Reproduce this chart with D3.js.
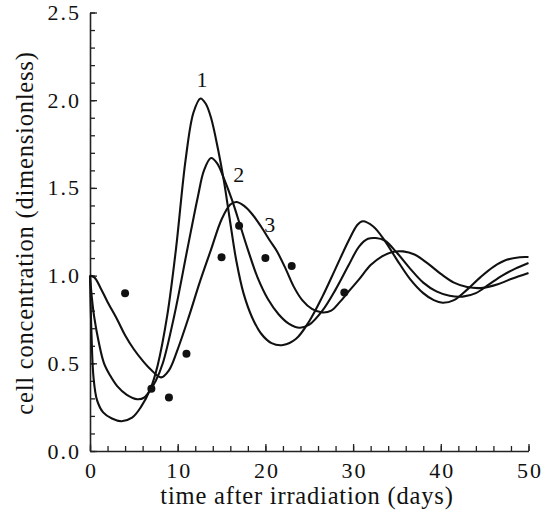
<!DOCTYPE html>
<html>
<head>
<meta charset="utf-8">
<script src="https://cdn.jsdelivr.net/npm/d3@7"></script>
<style>
  body { margin: 0; background: #fff; }
  svg text { font-family: "Liberation Serif", "Times New Roman", serif; fill: #111; }
</style>
</head>
<body>
<div id="chart"></div>
<script>
const width = 548;
const height = 514;

// model curves: [time (days), cell concentration]
const curve1 = [
  [0, 1.0], [0.15, 0.7], [0.4, 0.42], [0.8, 0.29], [1.5, 0.22], [2.5, 0.185], [3.6, 0.17],
  [4.8, 0.19], [5.8, 0.25], [6.9, 0.356], [7.7, 0.485], [8.8, 0.77], [9.8, 1.15],
  [10.9, 1.66], [11.8, 1.93], [12.6, 2.01], [13.2, 1.98], [13.8, 1.9], [14.6, 1.72],
  [15.3, 1.53], [16.0, 1.3], [16.7, 1.08], [17.5, 0.9], [18.5, 0.76], [19.5, 0.67],
  [20.7, 0.615], [22.0, 0.604], [23.5, 0.64], [25.0, 0.74], [26.5, 0.88], [28.0, 1.04],
  [29.5, 1.2], [30.5, 1.29], [31.1, 1.31], [32.3, 1.28], [33.6, 1.2], [35.0, 1.09],
  [36.5, 0.98], [38.0, 0.9], [39.2, 0.86], [40.2, 0.845], [41.5, 0.86], [43.0, 0.92],
  [44.5, 0.99], [46.0, 1.05], [47.5, 1.09], [49.0, 1.105], [50.0, 1.106]
];
const curve2 = [
  [0, 1.0], [0.2, 0.88], [0.46, 0.77], [1.0, 0.62], [1.6, 0.5], [2.3, 0.43], [3.1, 0.37],
  [4.2, 0.32], [5.4, 0.295], [6.2, 0.305], [6.9, 0.35], [7.5, 0.4], [8.3, 0.5],
  [9.6, 0.77], [11.1, 1.15], [12.3, 1.45], [13.0, 1.6], [13.8, 1.67], [14.5, 1.64],
  [15.3, 1.55], [16.2, 1.43], [17.1, 1.29], [18.0, 1.148], [19.1, 0.99], [20.3, 0.865],
  [21.5, 0.78], [22.7, 0.725], [23.9, 0.703], [25.0, 0.72], [26.5, 0.8], [28.0, 0.92],
  [29.5, 1.06], [30.7, 1.167], [31.7, 1.21], [32.6, 1.214], [33.6, 1.2], [35.0, 1.13],
  [36.5, 1.04], [38.0, 0.96], [39.5, 0.91], [41.0, 0.885], [42.5, 0.88], [44.0, 0.9],
  [45.5, 0.95], [47.0, 1.0], [48.5, 1.04], [50.0, 1.072]
];
const curve3 = [
  [0, 1.0], [0.5, 0.99], [1.2, 0.93], [2.0, 0.85], [3.1, 0.75], [4.0, 0.66], [5.0, 0.58],
  [6.0, 0.515], [6.9, 0.466], [8.1, 0.42], [9.0, 0.46], [10.0, 0.58], [11.3, 0.77],
  [12.5, 0.96], [13.8, 1.148], [15.0, 1.32], [16.0, 1.405], [16.7, 1.42], [17.5, 1.4],
  [18.5, 1.35], [19.5, 1.28], [20.5, 1.2], [21.3, 1.14], [22.3, 1.04], [23.2, 0.94],
  [24.2, 0.86], [25.3, 0.81], [26.5, 0.79], [27.5, 0.8], [28.5, 0.85], [29.5, 0.91],
  [30.7, 0.98], [32.0, 1.06], [33.3, 1.11], [34.5, 1.135], [35.7, 1.138], [37.0, 1.12],
  [38.5, 1.07], [40.0, 1.01], [41.5, 0.96], [43.0, 0.935], [44.8, 0.93], [46.5, 0.95],
  [48.0, 0.98], [50.0, 1.015]
];

// measured data points
const obsDays = [4, 7, 9, 11, 15, 17, 20, 23, 29];
const obsValues = [0.9, 0.355, 0.305, 0.555, 1.105, 1.284, 1.1, 1.055, 0.903];

const curveLabels = ["1", "2", "3"];
const labelAt = [[12.77, 2.077], [16.96, 1.535], [20.5, 1.25]];

const xTicks = [0, 10, 20, 30, 40, 50];
const yTicks = [0, 0.5, 1.0, 1.5, 2.0, 2.5];

const margin = { top: 12.5, right: 19.5, bottom: 63, left: 90 };

const x = d3.scaleLinear().domain([0, 50]).range([margin.left, width - margin.right]);
const y = d3.scaleLinear().domain([0, 2.5]).range([height - margin.bottom, margin.top]);

const svg = d3.select("#chart")
    .append("svg")
    .attr("width", width)
    .attr("height", height);

// minor ticks first, then major ticks with labels
const xAxisMinor = d3.axisBottom(x).tickValues(d3.range(0, 51, 2)).tickSize(-5).tickFormat("");
const yAxisMinor = d3.axisLeft(y).tickValues(d3.range(0, 2.51, 0.1)).tickSize(-5).tickFormat("");

svg.append("g")
    .attr("transform", `translate(0,${y(0)})`)
    .call(xAxisMinor)
    .call(g => g.select(".domain").remove());

svg.append("g")
    .attr("transform", `translate(${x(0)},0)`)
    .call(yAxisMinor)
    .call(g => g.select(".domain").remove());

const xAxis = d3.axisBottom(x).tickValues(xTicks).tickSize(-7).tickSizeOuter(0)
    .tickPadding(11).tickFormat(d3.format("d"));
const yAxis = d3.axisLeft(y).tickValues(yTicks).tickSize(-7).tickSizeOuter(0)
    .tickPadding(9).tickFormat(d3.format(".1f"));

svg.append("g")
    .attr("class", "x-axis")
    .attr("transform", `translate(0,${y(0)})`)
    .call(xAxis);

svg.append("g")
    .attr("class", "y-axis")
    .attr("transform", `translate(${x(0)},0)`)
    .call(yAxis);

svg.selectAll(".tick line").attr("stroke", "#222").attr("stroke-width", 1.3);
svg.selectAll(".domain").attr("stroke", "#222").attr("stroke-width", 1.6);
svg.selectAll(".tick text")
    .attr("font-size", 22)
    .attr("letter-spacing", 2)
    .attr("font-family", "Liberation Serif, serif")
    .attr("fill", "#111");
svg.selectAll(".x-axis .tick text").attr("dy", "0.71em").attr("dx", 1);

// axis titles
svg.append("text")
    .attr("x", 307)
    .attr("y", 504)
    .attr("text-anchor", "middle")
    .attr("font-size", 24.5)
    .attr("letter-spacing", 0.8)
    .text("time after irradiation (days)");

svg.append("text")
    .attr("transform", "translate(33,233) rotate(-90)")
    .attr("text-anchor", "middle")
    .attr("font-size", 24.5)
    .attr("letter-spacing", 0.8)
    .text("cell concentration (dimensionless)");

// model curves
const line = d3.line()
    .x(d => x(d[0]))
    .y(d => y(d[1]))
    .curve(d3.curveCatmullRom.alpha(0.5));

svg.selectAll(".model")
    .data([curve1, curve2, curve3])
    .enter()
    .append("path")
    .attr("class", "model")
    .attr("d", line)
    .attr("fill", "none")
    .attr("stroke", "#111")
    .attr("stroke-width", 2.1);

// curve numbers
svg.selectAll(".curve-label")
    .data(curveLabels)
    .enter()
    .append("text")
    .attr("class", "curve-label")
    .attr("x", (d, i) => x(labelAt[i][0]))
    .attr("y", (d, i) => y(labelAt[i][1]))
    .attr("text-anchor", "middle")
    .attr("font-size", 22)
    .text(d => d);

// data points
svg.selectAll(".obs")
    .data(obsDays)
    .enter()
    .append("circle")
    .attr("class", "obs")
    .attr("cx", d => x(d))
    .attr("cy", (d, i) => y(obsValues[i]))
    .attr("r", 4)
    .attr("fill", "#111");
</script>
</body>
</html>
